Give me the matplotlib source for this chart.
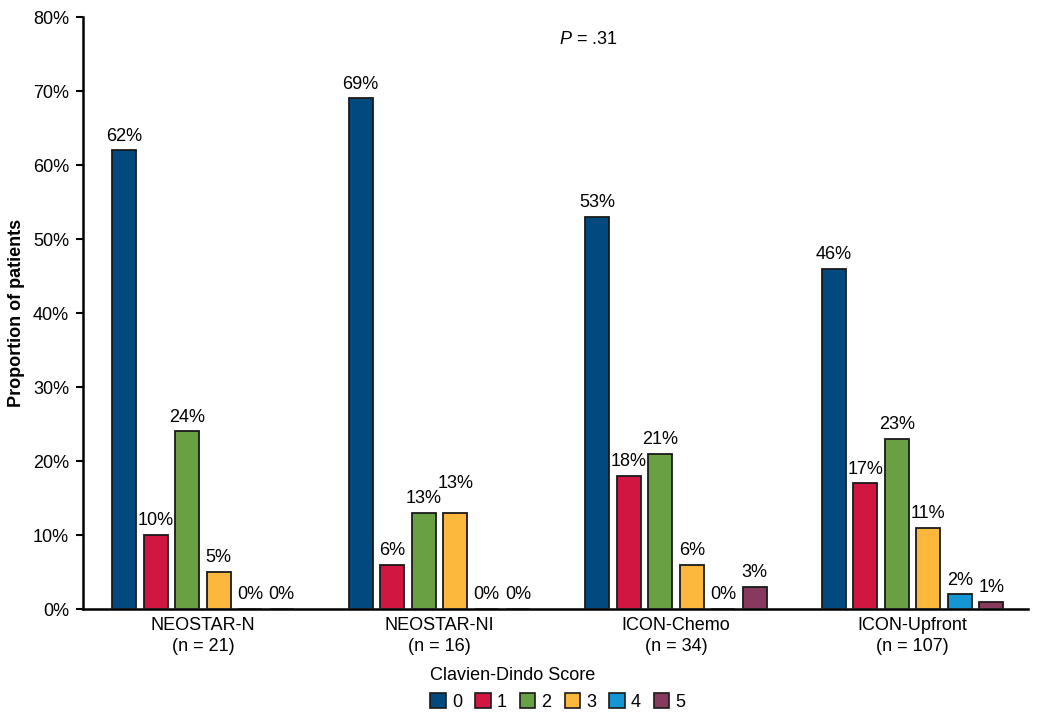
import matplotlib
matplotlib.use("Agg")
import matplotlib.pyplot as plt
import numpy as np
from matplotlib.patches import Patch

plt.rcParams['font.family'] = ['Liberation Sans', 'DejaVu Sans']
plt.rcParams['mathtext.fontset'] = 'custom'
plt.rcParams['mathtext.rm'] = 'Liberation Sans'
plt.rcParams['mathtext.it'] = 'Liberation Sans:italic'

groups = ["NEOSTAR-N\n(n = 21)", "NEOSTAR-NI\n(n = 16)", "ICON-Chemo\n(n = 34)", "ICON-Upfront\n(n = 107)"]
scores = ["0", "1", "2", "3", "4", "5"]
score0 = [62, 69, 53, 46]
score1 = [10, 6, 18, 17]
score2 = [24, 13, 21, 23]
score3 = [5, 13, 6, 11]
score4 = [0, 0, 0, 2]
score5 = [0, 0, 3, 1]
values = [score0, score1, score2, score3, score4, score5]
colors = ["#004A7F", "#D11642", "#68A043", "#FBB83C", "#1496D4", "#883A5E"]
yticks = [0, 10, 20, 30, 40, 50, 60, 70, 80]

fig = plt.figure(figsize=(10.5, 7.19), dpi=100)
ax = fig.add_axes([83/1050, 1-609/719, (1028-83)/1050, (609-17)/719])

x = np.arange(len(groups))
step = 0.1332
width = 0.101
for i, (vals, c) in enumerate(zip(values, colors)):
    pos = x + (i - 2.5) * step
    bars = ax.bar(pos, vals, width=width, color=c, edgecolor="#1a1a1a", linewidth=1.3, zorder=3)
    # raise the label of score 3 in NEOSTAR-NI so it does not collide with its neighbour
    pads = [4 + (11 if (i == 3 and j == 1) else 0) for j in range(len(vals))]
    for b, v, p in zip(bars, vals, pads):
        ax.annotate(f"{v}%", (b.get_x() + b.get_width() / 2, b.get_height()),
                    xytext=(0, p), textcoords="offset points", ha="center", va="bottom", fontsize=13)

ax.set_xlim(-0.507, 3.488)
ax.set_ylim(0, 80)
ax.set_yticks(yticks)
ax.set_yticklabels([f"{t}%" for t in yticks], fontsize=13)
ax.set_xticks(x)
ax.set_xticklabels(groups, fontsize=13, linespacing=1.25)
ax.tick_params(axis='x', length=0, pad=6)
ax.tick_params(axis='y', length=5, width=1.5, pad=5)
for s in ["top", "right"]:
    ax.spines[s].set_visible(False)
for s in ["left", "bottom"]:
    ax.spines[s].set_linewidth(1.8)
ax.set_ylabel("Proportion of patients", fontsize=13, fontweight="bold", labelpad=6)

ax.text(588/1050, 1-40/719, r"$P$ = .31", transform=fig.transFigure, ha="center", va="center", fontsize=13)

handles = [Patch(facecolor=c, edgecolor="#1a1a1a", linewidth=1.2) for c in colors]
leg = fig.legend(handles, scores, ncol=6, title="Clavien-Dindo Score", title_fontsize=13,
                 fontsize=13, frameon=False, loc="center", bbox_to_anchor=(558/1050, 1-689/719),
                 handlelength=0.85, handleheight=0.85, handletextpad=0.35, columnspacing=0.72,
                 alignment="left", borderpad=0)

fig.savefig("out.png", dpi=100)
